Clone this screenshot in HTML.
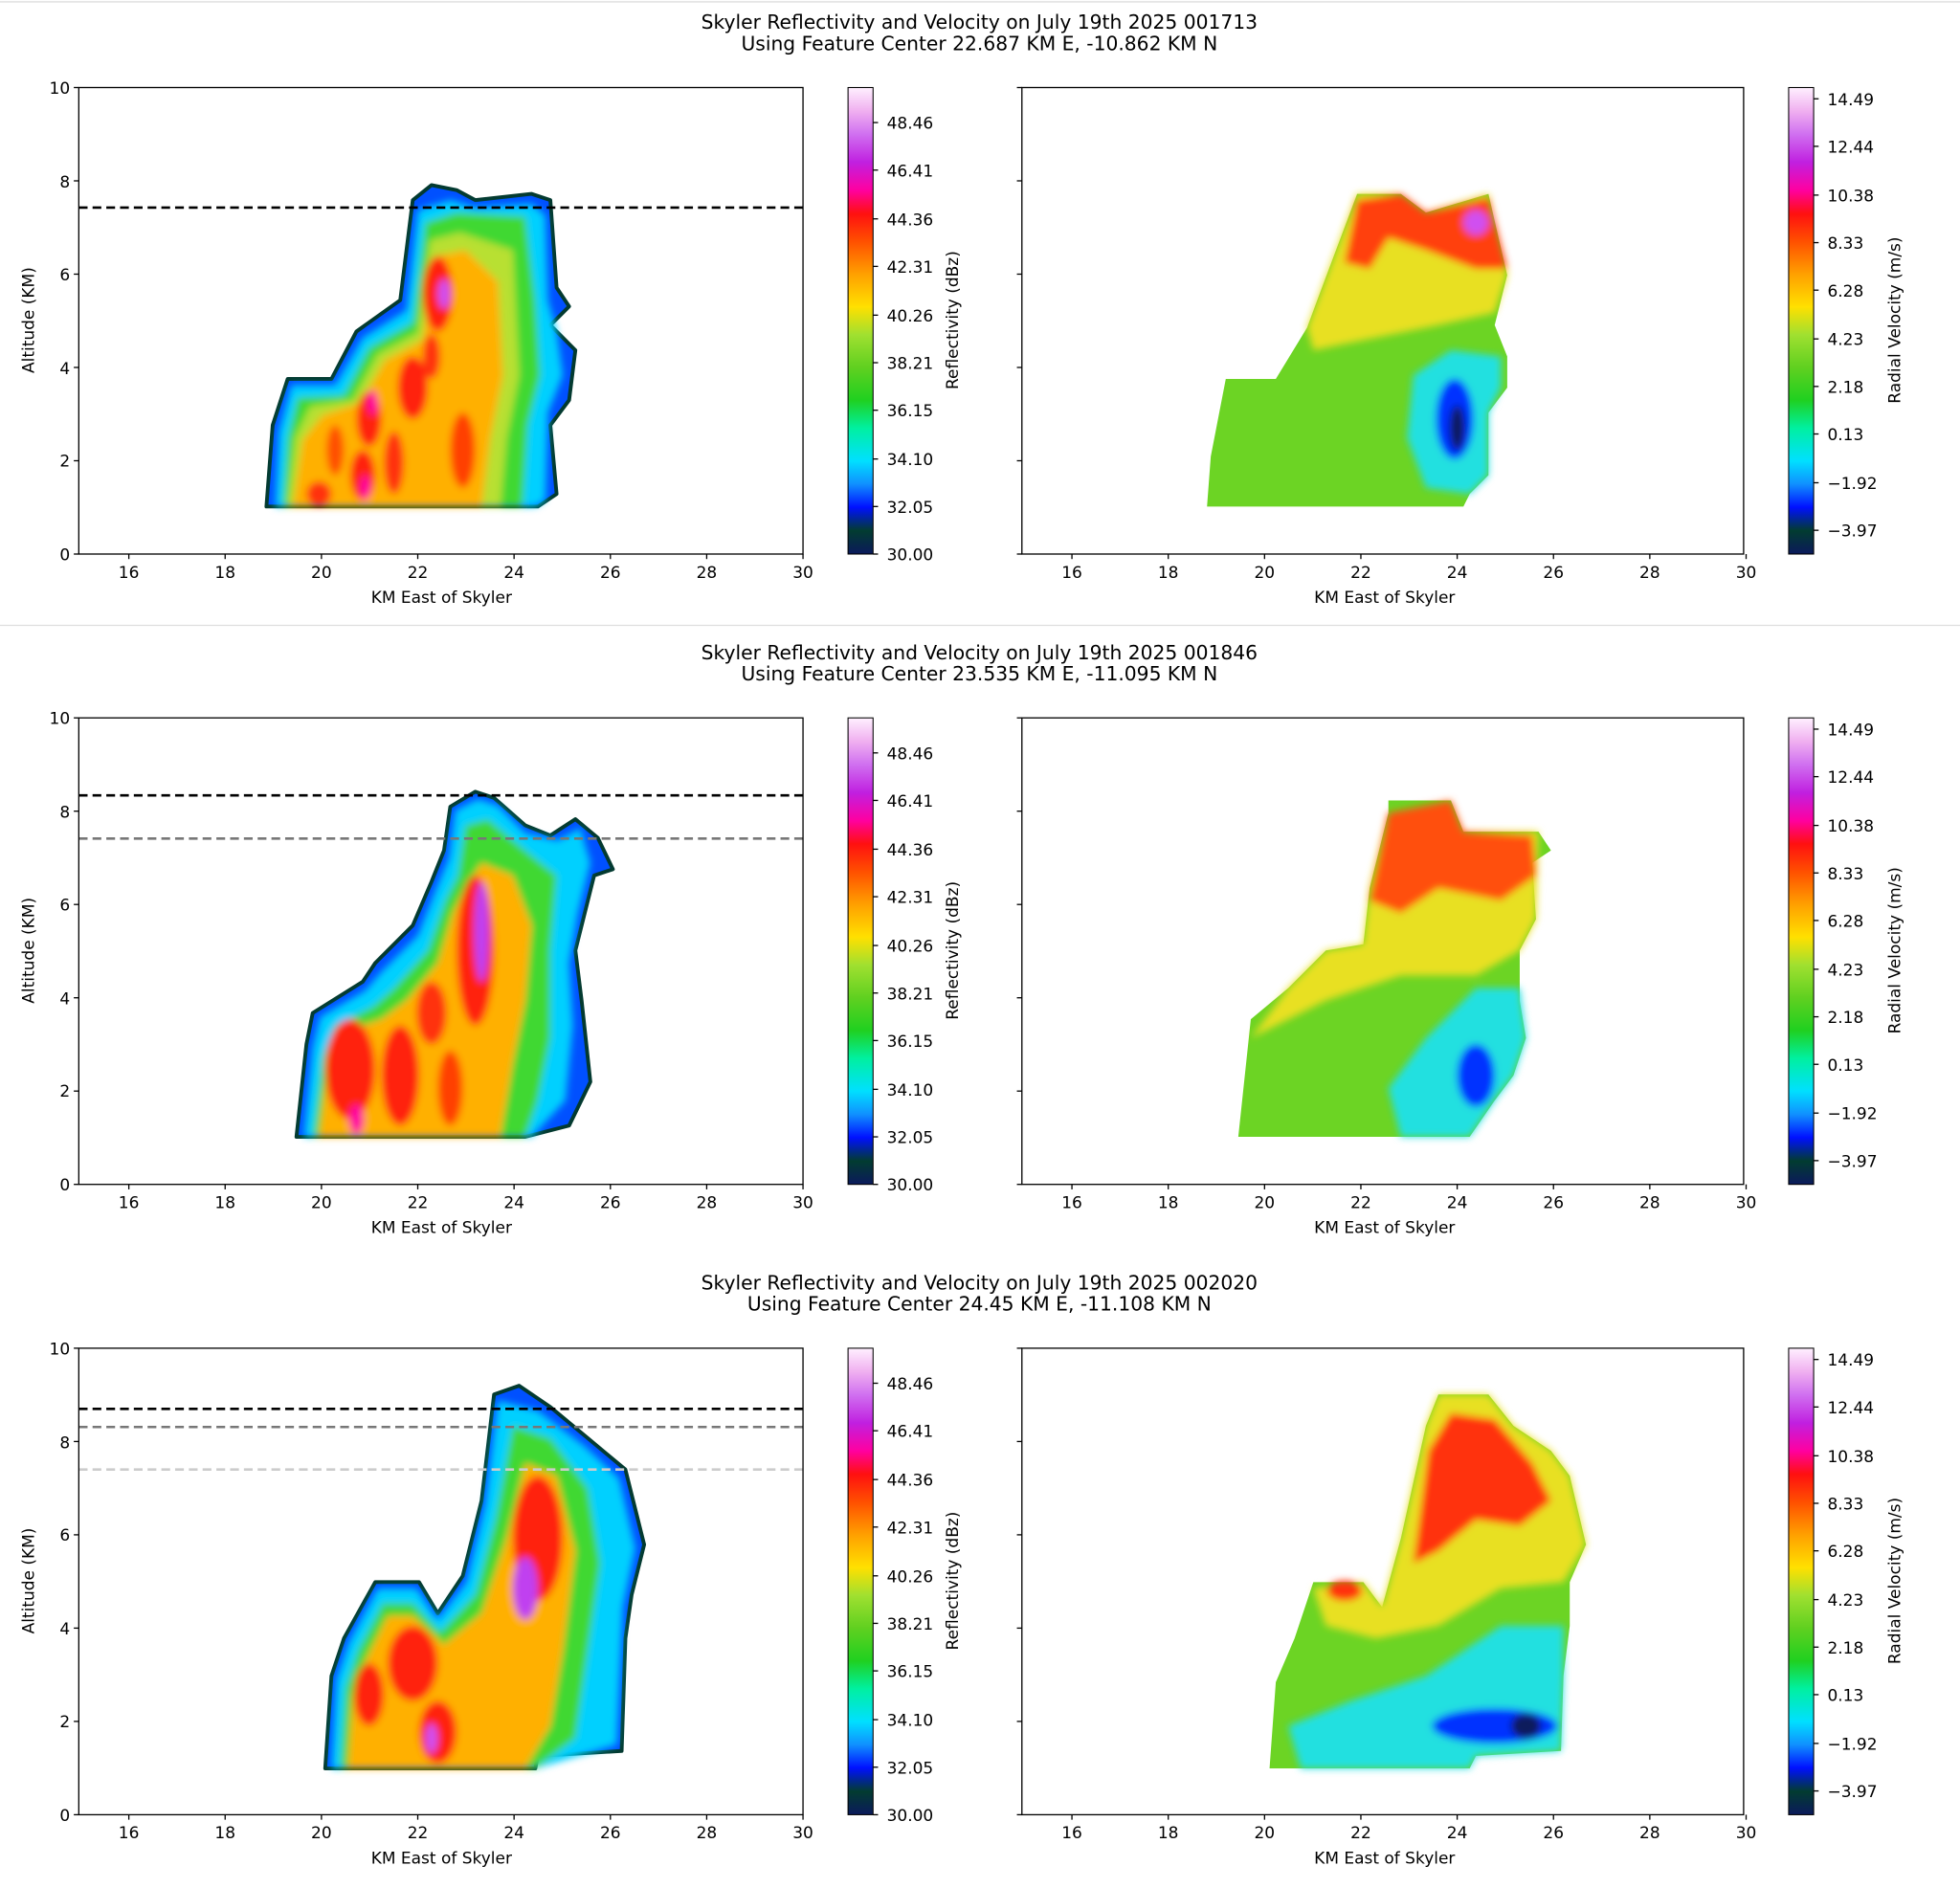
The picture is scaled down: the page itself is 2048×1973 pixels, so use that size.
<!DOCTYPE html>
<html><head><meta charset="utf-8"><style>html,body{margin:0;padding:0;background:#fff}svg{display:block}text{font-family:"DejaVu Sans","Liberation Sans",sans-serif;fill:#000}</style></head>
<body>
<svg width="2048" height="1973" viewBox="0 0 1567 1509.6" preserveAspectRatio="none" xmlns="http://www.w3.org/2000/svg">
<defs>
<linearGradient id="cm" x1="0" y1="1" x2="0" y2="0">
<stop offset="0" stop-color="#0b1a5c"/><stop offset="0.05" stop-color="#023c30"/><stop offset="0.1" stop-color="#0010ff"/><stop offset="0.15" stop-color="#1090ff"/><stop offset="0.2" stop-color="#00e0ff"/><stop offset="0.27" stop-color="#00f0a0"/><stop offset="0.33" stop-color="#20d020"/><stop offset="0.4" stop-color="#60d020"/><stop offset="0.47" stop-color="#a0e030"/><stop offset="0.53" stop-color="#ffe000"/><stop offset="0.6" stop-color="#ffa000"/><stop offset="0.67" stop-color="#ff5000"/><stop offset="0.73" stop-color="#ff1010"/><stop offset="0.78" stop-color="#ff00a0"/><stop offset="0.84" stop-color="#c020e0"/><stop offset="0.9" stop-color="#d070f0"/><stop offset="0.95" stop-color="#f0b0f0"/><stop offset="1" stop-color="#fff0ff"/>
</linearGradient>
<filter id="b" x="-20%" y="-20%" width="140%" height="140%"><feGaussianBlur stdDeviation="3"/></filter>
<g id="xt" font-size="13" text-anchor="middle">
<line x1="103" y1="0" x2="103" y2="4" stroke="#000"/><text x="103" y="19">16</text>
<line x1="180" y1="0" x2="180" y2="4" stroke="#000"/><text x="180" y="19">18</text>
<line x1="257" y1="0" x2="257" y2="4" stroke="#000"/><text x="257" y="19">20</text>
<line x1="334" y1="0" x2="334" y2="4" stroke="#000"/><text x="334" y="19">22</text>
<line x1="411" y1="0" x2="411" y2="4" stroke="#000"/><text x="411" y="19">24</text>
<line x1="488" y1="0" x2="488" y2="4" stroke="#000"/><text x="488" y="19">26</text>
<line x1="565" y1="0" x2="565" y2="4" stroke="#000"/><text x="565" y="19">28</text>
<line x1="642" y1="0" x2="642" y2="4" stroke="#000"/><text x="642" y="19">30</text>
<text x="353" y="39">KM East of Skyler</text>
</g>
<g id="panelframe">
<rect x="63" y="70" width="579" height="373" fill="none" stroke="#000"/>
<rect x="817" y="70" width="577" height="373" fill="none" stroke="#000"/>
<use href="#xt" y="443"/><use href="#xt" x="754" y="443"/>
<g font-size="13" text-anchor="end">
<line x1="59" y1="443" x2="63" y2="443" stroke="#000"/><text x="56" y="448">0</text>
<line x1="59" y1="368.4" x2="63" y2="368.4" stroke="#000"/><text x="56" y="373">2</text>
<line x1="59" y1="293.8" x2="63" y2="293.8" stroke="#000"/><text x="56" y="299">4</text>
<line x1="59" y1="219.2" x2="63" y2="219.2" stroke="#000"/><text x="56" y="224">6</text>
<line x1="59" y1="144.6" x2="63" y2="144.6" stroke="#000"/><text x="56" y="150">8</text>
<line x1="59" y1="70" x2="63" y2="70" stroke="#000"/><text x="56" y="75">10</text>
<line x1="813" y1="443" x2="817" y2="443" stroke="#000"/>
<line x1="813" y1="368.4" x2="817" y2="368.4" stroke="#000"/>
<line x1="813" y1="293.8" x2="817" y2="293.8" stroke="#000"/>
<line x1="813" y1="219.2" x2="817" y2="219.2" stroke="#000"/>
<line x1="813" y1="144.6" x2="817" y2="144.6" stroke="#000"/>
<line x1="813" y1="70" x2="817" y2="70" stroke="#000"/>
</g>
<text x="27" y="256" font-size="13" text-anchor="middle" transform="rotate(-90 27 256)">Altitude (KM)</text>
<rect x="678" y="70" width="20" height="373" fill="url(#cm)" stroke="#000" stroke-width="0.8"/>
<rect x="1430" y="70" width="20" height="373" fill="url(#cm)" stroke="#000" stroke-width="0.8"/>
<g font-size="13">
<text x="709" y="103">48.46</text><text x="709" y="141">46.41</text><text x="709" y="180">44.36</text><text x="709" y="218">42.31</text><text x="709" y="257">40.26</text><text x="709" y="295">38.21</text><text x="709" y="333">36.15</text><text x="709" y="372">34.10</text><text x="709" y="410">32.05</text><text x="709" y="448">30.00</text>
<text x="1461" y="84">14.49</text><text x="1461" y="122">12.44</text><text x="1461" y="161">10.38</text><text x="1461" y="199">8.33</text><text x="1461" y="237">6.28</text><text x="1461" y="276">4.23</text><text x="1461" y="314">2.18</text><text x="1461" y="352">0.13</text><text x="1461" y="391">−1.92</text><text x="1461" y="429">−3.97</text>
</g>
<g stroke="#000"><line x1="698" y1="98" x2="702" y2="98"/><line x1="698" y1="136" x2="702" y2="136"/><line x1="698" y1="175" x2="702" y2="175"/><line x1="698" y1="213" x2="702" y2="213"/><line x1="698" y1="252" x2="702" y2="252"/><line x1="698" y1="290" x2="702" y2="290"/><line x1="698" y1="328" x2="702" y2="328"/><line x1="698" y1="367" x2="702" y2="367"/><line x1="698" y1="405" x2="702" y2="405"/><line x1="698" y1="443" x2="702" y2="443"/>
<line x1="1450" y1="79" x2="1454" y2="79"/><line x1="1450" y1="117" x2="1454" y2="117"/><line x1="1450" y1="156" x2="1454" y2="156"/><line x1="1450" y1="194" x2="1454" y2="194"/><line x1="1450" y1="232" x2="1454" y2="232"/><line x1="1450" y1="271" x2="1454" y2="271"/><line x1="1450" y1="309" x2="1454" y2="309"/><line x1="1450" y1="347" x2="1454" y2="347"/><line x1="1450" y1="386" x2="1454" y2="386"/><line x1="1450" y1="424" x2="1454" y2="424"/></g>
<text x="766" y="256" font-size="13" text-anchor="middle" transform="rotate(-90 766 256)">Reflectivity (dBz)</text>
<text x="1519" y="256" font-size="13" text-anchor="middle" transform="rotate(-90 1519 256)">Radial Velocity (m/s)</text>
</g>
</defs>

<line x1="0" y1="1.5" x2="1567" y2="1.5" stroke="#ddd"/>
<line x1="0" y1="500" x2="1567" y2="500" stroke="#ddd"/>

<!-- Panel 1 -->
<g font-size="15.5" text-anchor="middle"><text x="783" y="23">Skyler Reflectivity and Velocity on July 19th 2025 001713</text><text x="783" y="40">Using Feature Center 22.687 KM E, -10.862 KM N</text></g>
<polygon fill="#0050ff" stroke="#033a30" stroke-width="3" stroke-linejoin="round" points="213,405 218,340 230,303 265,303 285,265 320,240 330,160 345,148 365,152 380,160 425,155 440,160 445,230 455,245 440,260 460,280 455,320 440,340 445,395 430,405"/>
<g filter="url(#b)">
<polygon fill="#00d0ff" points="220,405 223,345 233,308 268,308 290,270 325,248 334,168 360,160 380,166 425,163 436,172 438,240 445,265 450,300 438,330 436,400 428,405"/>
<polygon fill="#40d830" points="226,405 230,350 238,318 275,316 295,278 330,258 340,178 365,170 420,173 428,240 432,300 422,340 418,405"/>
<polygon fill="#b8e030" points="230,405 236,350 248,325 282,320 302,283 334,266 344,192 368,186 410,200 415,300 405,350 400,405"/>
<polygon fill="#ffb000" points="234,405 242,352 258,332 288,322 308,288 338,272 348,205 372,200 398,225 402,300 392,350 385,405"/>
<ellipse cx="350" cy="235" rx="12" ry="30" fill="#ff2010"/><ellipse cx="330" cy="310" rx="12" ry="25" fill="#ff2010"/><ellipse cx="295" cy="335" rx="10" ry="22" fill="#ff2010"/><ellipse cx="290" cy="380" rx="10" ry="20" fill="#ff2010"/><ellipse cx="255" cy="395" rx="10" ry="10" fill="#ff3010"/><ellipse cx="370" cy="360" rx="10" ry="30" fill="#ff4000"/><ellipse cx="315" cy="370" rx="8" ry="25" fill="#ff3010"/><ellipse cx="268" cy="360" rx="7" ry="20" fill="#ff5000"/><ellipse cx="345" cy="285" rx="7" ry="18" fill="#ff3010"/>
<ellipse cx="355" cy="235" rx="5" ry="12" fill="#d050f0"/><ellipse cx="298" cy="322" rx="4" ry="10" fill="#ff00a0"/><ellipse cx="292" cy="390" rx="4" ry="10" fill="#ff00a0"/>
</g>
<polygon fill="#6cd424" points="965,405 968,365 980,303 1020,303 1045,262 1055,235 1085,155 1120,155 1140,170 1190,155 1205,220 1195,260 1205,285 1205,310 1190,330 1190,380 1175,395 1170,405"/>
<g filter="url(#b)">
<polygon fill="#e8e020" points="1045,262 1055,235 1085,155 1120,155 1140,170 1190,155 1205,220 1195,250 1150,260 1100,270 1050,280"/>
<polygon fill="#ff4010" points="1075,210 1085,160 1120,155 1140,170 1190,158 1205,215 1180,215 1140,200 1110,190 1095,215"/>
<ellipse cx="1180" cy="178" rx="10" ry="10" fill="#d050f0"/>
<polygon fill="#20e0e0" points="1130,300 1160,280 1200,285 1200,310 1190,330 1190,380 1175,395 1140,390 1125,350"/>
<ellipse cx="1163" cy="335" rx="15" ry="32" fill="#0030ff"/><ellipse cx="1165" cy="342" rx="6" ry="18" fill="#0b1a5c"/>
</g>
<line x1="63" y1="166" x2="642" y2="166" stroke="#000" stroke-width="2" stroke-dasharray="7,4"/>
<use href="#panelframe"/>

<!-- Panel 2 -->
<g font-size="15.5" text-anchor="middle"><text x="783" y="527">Skyler Reflectivity and Velocity on July 19th 2025 001846</text><text x="783" y="544">Using Feature Center 23.535 KM E, -11.095 KM N</text></g>
<polygon fill="#0050ff" stroke="#033a30" stroke-width="3" stroke-linejoin="round" points="237,909 245,835 250,810 290,785 300,770 330,740 345,705 355,680 360,645 380,633 395,638 420,660 440,668 460,655 478,670 490,695 475,700 470,720 460,760 465,800 472,865 455,900 420,909"/>
<g filter="url(#b)">
<polygon fill="#00d0ff" points="243,909 250,838 256,813 292,792 304,778 334,748 349,710 359,686 364,648 382,639 398,644 420,666 446,672 464,662 472,690 462,730 455,770 458,820 452,880 425,909"/>
<polygon fill="#40d830" points="250,909 258,845 268,820 298,805 315,790 342,760 356,720 366,700 372,660 390,655 420,680 445,700 440,760 440,830 430,880 420,909"/>
<polygon fill="#ffb000" points="255,909 262,850 275,825 305,815 325,800 350,770 362,730 372,710 385,690 410,700 425,740 420,800 410,850 400,909"/>
<ellipse cx="380" cy="760" rx="15" ry="60" fill="#ff2010"/><ellipse cx="280" cy="855" rx="20" ry="40" fill="#ff2010"/><ellipse cx="320" cy="860" rx="15" ry="40" fill="#ff2010"/><ellipse cx="345" cy="810" rx="12" ry="25" fill="#ff3010"/><ellipse cx="360" cy="870" rx="10" ry="30" fill="#ff4000"/>
<ellipse cx="385" cy="745" rx="6" ry="40" fill="#c040f0"/><ellipse cx="285" cy="895" rx="6" ry="12" fill="#ff00a0"/>
</g>
<polygon fill="#6cd424" points="990,909 1000,815 1030,790 1060,760 1090,755 1095,710 1110,650 1110,640 1160,640 1170,665 1230,665 1240,680 1225,690 1228,735 1215,760 1215,800 1220,830 1210,860 1195,880 1175,909"/>
<g filter="url(#b)">
<polygon fill="#e8e020" points="1000,830 1030,790 1060,760 1090,755 1095,710 1110,650 1160,640 1170,665 1230,665 1228,735 1215,760 1180,780 1120,780 1060,800"/>
<polygon fill="#ff5010" points="1095,720 1110,650 1160,640 1170,665 1225,668 1228,700 1200,720 1150,710 1120,730"/>
<polygon fill="#20e0e0" points="1140,830 1180,790 1215,790 1220,830 1210,860 1195,880 1175,909 1120,909 1110,870"/>
<ellipse cx="1180" cy="860" rx="15" ry="25" fill="#0030ff"/>
</g>
<line x1="63" y1="636" x2="642" y2="636" stroke="#000" stroke-width="2" stroke-dasharray="7,4"/>
<line x1="63" y1="670.5" x2="642" y2="670.5" stroke="#777" stroke-width="2" stroke-dasharray="7,4"/>
<use href="#panelframe" y="504"/>

<!-- Panel 3 -->
<g font-size="15.5" text-anchor="middle"><text x="783" y="1031">Skyler Reflectivity and Velocity on July 19th 2025 002020</text><text x="783" y="1048">Using Feature Center 24.45 KM E, -11.108 KM N</text></g>
<polygon fill="#0050ff" stroke="#033a30" stroke-width="3" stroke-linejoin="round" points="260,1414 265,1340 275,1310 300,1265 335,1265 350,1290 370,1260 385,1200 395,1115 415,1108 440,1125 470,1150 500,1175 515,1235 505,1275 500,1310 497,1400 430,1404 428,1414"/>
<g filter="url(#b)">
<polygon fill="#00d0ff" points="265,1414 269,1343 279,1313 302,1270 333,1270 350,1295 373,1265 388,1203 398,1120 430,1128 467,1156 495,1182 508,1238 498,1285 493,1395 428,1414"/>
<polygon fill="#40d830" points="272,1414 276,1350 286,1320 306,1282 330,1282 352,1305 380,1275 396,1215 410,1140 440,1150 470,1190 480,1250 470,1320 460,1390 428,1414"/>
<polygon fill="#ffb000" points="278,1414 282,1355 292,1328 310,1292 330,1292 355,1315 385,1290 405,1230 420,1170 445,1180 460,1240 450,1320 440,1380 420,1414"/>
<ellipse cx="430" cy="1230" rx="20" ry="50" fill="#ff2010"/><ellipse cx="330" cy="1330" rx="20" ry="30" fill="#ff2010"/><ellipse cx="295" cy="1355" rx="12" ry="25" fill="#ff2010"/><ellipse cx="350" cy="1385" rx="15" ry="25" fill="#ff2010"/>
<ellipse cx="420" cy="1270" rx="10" ry="25" fill="#c040f0"/><ellipse cx="345" cy="1390" rx="5" ry="12" fill="#d050f0"/>
</g>
<polygon fill="#6cd424" points="1015,1414 1020,1345 1035,1310 1050,1265 1090,1265 1105,1285 1120,1230 1140,1140 1150,1115 1190,1115 1210,1140 1240,1160 1255,1180 1268,1235 1255,1265 1255,1300 1250,1340 1248,1400 1180,1404 1175,1414"/>
<g filter="url(#b)">
<polygon fill="#e8e020" points="1050,1270 1090,1265 1105,1285 1120,1230 1140,1140 1150,1115 1190,1115 1210,1140 1240,1160 1255,1180 1268,1235 1250,1265 1200,1270 1150,1300 1100,1310 1060,1300"/>
<polygon fill="#ff3010" points="1130,1250 1142,1160 1160,1130 1195,1135 1225,1170 1240,1200 1215,1220 1180,1215 1150,1240"/>
<ellipse cx="1075" cy="1272" rx="14" ry="8" fill="#ff3010"/>
<polygon fill="#20e0e0" points="1030,1380 1080,1360 1140,1340 1200,1300 1250,1300 1250,1340 1248,1400 1180,1404 1175,1414 1040,1414"/>
<ellipse cx="1195" cy="1380" rx="50" ry="14" fill="#0030ff"/><ellipse cx="1220" cy="1380" rx="12" ry="10" fill="#0b1a5c"/>
</g>
<line x1="63" y1="1126.5" x2="642" y2="1126.5" stroke="#000" stroke-width="2" stroke-dasharray="7,4"/>
<line x1="63" y1="1141" x2="642" y2="1141" stroke="#777" stroke-width="2" stroke-dasharray="7,4"/>
<line x1="63" y1="1175" x2="642" y2="1175" stroke="#ccc" stroke-width="2" stroke-dasharray="7,4"/>
<use href="#panelframe" y="1008"/>
</svg>
</body></html>
